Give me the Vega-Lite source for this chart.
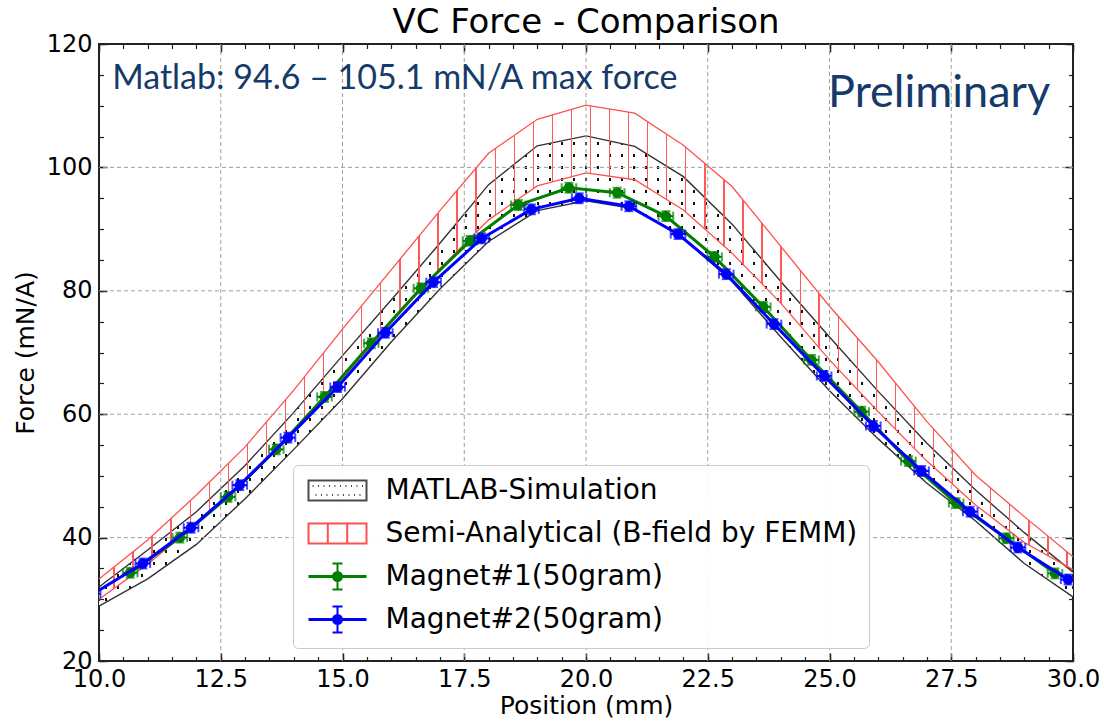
{
  "$schema": "https://vega.github.io/schema/vega-lite/v6.json",
  "autosize": {"type": "none"},
  "padding": {"left": 99, "top": 44, "right": 31, "bottom": 62},
  "width": 974,
  "height": 617,
  "background": "white",
  "title": {"text": "VC Force - Comparison", "fontSize": 34, "font": "DejaVu Sans", "fontWeight": "normal", "anchor": "middle", "offset": -8, "color": "#000"},
  "config": {"view": {"stroke": "#222", "strokeWidth": 2}},
  "resolve": {"axis": {"x": "independent", "y": "independent"}},
  "datasets": {
    "bands": [
      {"x": 10, "gl": 28.9, "gu": 32.0, "rl": 30.0, "ru": 33.3},
      {"x": 11, "gl": 33.3, "gu": 38.0, "rl": 35.7, "ru": 39.6},
      {"x": 12, "gl": 38.9, "gu": 44.2, "rl": 42.2, "ru": 46.9},
      {"x": 13, "gl": 46.3, "gu": 51.7, "rl": 49.1, "ru": 54.7},
      {"x": 14, "gl": 54.3, "gu": 60.3, "rl": 57.3, "ru": 63.9},
      {"x": 15, "gl": 62.5, "gu": 69.5, "rl": 65.8, "ru": 73.8},
      {"x": 16, "gl": 71.7, "gu": 78.5, "rl": 74.8, "ru": 83.4},
      {"x": 17, "gl": 80.3, "gu": 87.7, "rl": 83.6, "ru": 93.0},
      {"x": 18, "gl": 88.0, "gu": 97.2, "rl": 91.5, "ru": 102.3},
      {"x": 19, "gl": 93.0, "gu": 103.5, "rl": 97.0, "ru": 107.8},
      {"x": 20, "gl": 94.6, "gu": 105.1, "rl": 99.1, "ru": 110.1},
      {"x": 21, "gl": 93.3, "gu": 103.4, "rl": 98.0, "ru": 108.8},
      {"x": 22, "gl": 88.5, "gu": 98.5, "rl": 93.1, "ru": 103.6},
      {"x": 23, "gl": 81.5, "gu": 90.8, "rl": 86.1, "ru": 96.9},
      {"x": 24, "gl": 72.5, "gu": 81.5, "rl": 78.0, "ru": 87.2},
      {"x": 25, "gl": 63.8, "gu": 72.5, "rl": 68.8, "ru": 77.5},
      {"x": 26, "gl": 56.0, "gu": 63.7, "rl": 60.4, "ru": 68.5},
      {"x": 27, "gl": 48.8, "gu": 55.3, "rl": 52.4, "ru": 58.8},
      {"x": 28, "gl": 42.7, "gu": 47.7, "rl": 45.3, "ru": 50.1},
      {"x": 29, "gl": 35.8, "gu": 40.8, "rl": 39.2, "ru": 43.4},
      {"x": 30, "gl": 30.4, "gu": 34.4, "rl": 34.8, "ru": 36.9}
    ],
    "mag": [
      {"s": "Magnet#1(50gram)", "x": 10.64, "y": 34.3, "ex": 0.15, "ey": 0.8},
      {"s": "Magnet#1(50gram)", "x": 11.66, "y": 40.0, "ex": 0.15, "ey": 0.8},
      {"s": "Magnet#1(50gram)", "x": 12.65, "y": 46.6, "ex": 0.15, "ey": 0.8},
      {"s": "Magnet#1(50gram)", "x": 13.64, "y": 54.3, "ex": 0.15, "ey": 0.8},
      {"s": "Magnet#1(50gram)", "x": 14.63, "y": 62.8, "ex": 0.15, "ey": 0.8},
      {"s": "Magnet#1(50gram)", "x": 15.59, "y": 71.5, "ex": 0.15, "ey": 0.8},
      {"s": "Magnet#1(50gram)", "x": 16.61, "y": 80.4, "ex": 0.15, "ey": 0.8},
      {"s": "Magnet#1(50gram)", "x": 17.62, "y": 88.1, "ex": 0.15, "ey": 0.8},
      {"s": "Magnet#1(50gram)", "x": 18.61, "y": 93.9, "ex": 0.15, "ey": 0.8},
      {"s": "Magnet#1(50gram)", "x": 19.65, "y": 96.7, "ex": 0.15, "ey": 0.8},
      {"s": "Magnet#1(50gram)", "x": 20.64, "y": 95.9, "ex": 0.15, "ey": 0.8},
      {"s": "Magnet#1(50gram)", "x": 21.64, "y": 92.1, "ex": 0.15, "ey": 0.8},
      {"s": "Magnet#1(50gram)", "x": 22.64, "y": 85.5, "ex": 0.15, "ey": 0.8},
      {"s": "Magnet#1(50gram)", "x": 23.64, "y": 77.4, "ex": 0.15, "ey": 0.8},
      {"s": "Magnet#1(50gram)", "x": 24.63, "y": 68.8, "ex": 0.15, "ey": 0.8},
      {"s": "Magnet#1(50gram)", "x": 25.66, "y": 60.4, "ex": 0.15, "ey": 0.8},
      {"s": "Magnet#1(50gram)", "x": 26.62, "y": 52.4, "ex": 0.15, "ey": 0.8},
      {"s": "Magnet#1(50gram)", "x": 27.6, "y": 45.6, "ex": 0.15, "ey": 0.8},
      {"s": "Magnet#1(50gram)", "x": 28.63, "y": 39.9, "ex": 0.15, "ey": 0.8},
      {"s": "Magnet#1(50gram)", "x": 29.63, "y": 34.2, "ex": 0.15, "ey": 0.8},
      {"s": "Magnet#2(50gram)", "x": 9.88, "y": 30.9, "ex": 0.15, "ey": 0.8},
      {"s": "Magnet#2(50gram)", "x": 10.9, "y": 35.8, "ex": 0.15, "ey": 0.8},
      {"s": "Magnet#2(50gram)", "x": 11.89, "y": 41.6, "ex": 0.15, "ey": 0.8},
      {"s": "Magnet#2(50gram)", "x": 12.89, "y": 48.5, "ex": 0.15, "ey": 0.8},
      {"s": "Magnet#2(50gram)", "x": 13.88, "y": 56.2, "ex": 0.15, "ey": 0.8},
      {"s": "Magnet#2(50gram)", "x": 14.9, "y": 64.4, "ex": 0.15, "ey": 0.8},
      {"s": "Magnet#2(50gram)", "x": 15.88, "y": 73.2, "ex": 0.15, "ey": 0.8},
      {"s": "Magnet#2(50gram)", "x": 16.87, "y": 81.4, "ex": 0.15, "ey": 0.8},
      {"s": "Magnet#2(50gram)", "x": 17.86, "y": 88.5, "ex": 0.15, "ey": 0.8},
      {"s": "Magnet#2(50gram)", "x": 18.88, "y": 93.2, "ex": 0.15, "ey": 0.8},
      {"s": "Magnet#2(50gram)", "x": 19.86, "y": 95.0, "ex": 0.15, "ey": 0.8},
      {"s": "Magnet#2(50gram)", "x": 20.88, "y": 93.7, "ex": 0.15, "ey": 0.8},
      {"s": "Magnet#2(50gram)", "x": 21.89, "y": 89.2, "ex": 0.15, "ey": 0.8},
      {"s": "Magnet#2(50gram)", "x": 22.88, "y": 82.7, "ex": 0.15, "ey": 0.8},
      {"s": "Magnet#2(50gram)", "x": 23.86, "y": 74.6, "ex": 0.15, "ey": 0.8},
      {"s": "Magnet#2(50gram)", "x": 24.89, "y": 66.2, "ex": 0.15, "ey": 0.8},
      {"s": "Magnet#2(50gram)", "x": 25.9, "y": 58.1, "ex": 0.15, "ey": 0.8},
      {"s": "Magnet#2(50gram)", "x": 26.89, "y": 50.8, "ex": 0.15, "ey": 0.8},
      {"s": "Magnet#2(50gram)", "x": 27.89, "y": 44.2, "ex": 0.15, "ey": 0.8},
      {"s": "Magnet#2(50gram)", "x": 28.87, "y": 38.4, "ex": 0.15, "ey": 0.8},
      {"s": "Magnet#2(50gram)", "x": 29.9, "y": 33.2, "ex": 0.15, "ey": 0.8}
    ],
    "series": [
      {"series": "MATLAB-Simulation"},
      {"series": "Semi-Analytical (B-field by FEMM)"},
      {"series": "Magnet#1(50gram)"},
      {"series": "Magnet#2(50gram)"}
    ],
    "gridx": [{"g": 12.5}, {"g": 15}, {"g": 17.5}, {"g": 20}, {"g": 22.5}, {"g": 25}, {"g": 27.5}],
    "gridy": [{"g": 40}, {"g": 60}, {"g": 80}, {"g": 100}]
  },
  "layer": [
    {
      "data": {"name": "bands"},
      "mark": {"type": "area", "strokeWidth": 0, "fill": {"gradient": "linear", "x1": 0, "y1": 0, "x2": 1, "y2": 0, "stops": [
        {"offset":0,"color":"transparent"},
        {"offset":0.0062,"color":"transparent"},{"offset":0.0062,"color":"#111"},{"offset":0.0082,"color":"#111"},{"offset":0.0082,"color":"transparent"},
        {"offset":0.0185,"color":"transparent"},{"offset":0.0185,"color":"#111"},{"offset":0.0205,"color":"#111"},{"offset":0.0205,"color":"transparent"},
        {"offset":0.0308,"color":"transparent"},{"offset":0.0308,"color":"#111"},{"offset":0.0329,"color":"#111"},{"offset":0.0329,"color":"transparent"},
        {"offset":0.0431,"color":"transparent"},{"offset":0.0431,"color":"#111"},{"offset":0.0452,"color":"#111"},{"offset":0.0452,"color":"transparent"},
        {"offset":0.0554,"color":"transparent"},{"offset":0.0554,"color":"#111"},{"offset":0.0575,"color":"#111"},{"offset":0.0575,"color":"transparent"},
        {"offset":0.0678,"color":"transparent"},{"offset":0.0678,"color":"#111"},{"offset":0.0698,"color":"#111"},{"offset":0.0698,"color":"transparent"},
        {"offset":0.0801,"color":"transparent"},{"offset":0.0801,"color":"#111"},{"offset":0.0821,"color":"#111"},{"offset":0.0821,"color":"transparent"},
        {"offset":0.0924,"color":"transparent"},{"offset":0.0924,"color":"#111"},{"offset":0.0945,"color":"#111"},{"offset":0.0945,"color":"transparent"},
        {"offset":0.1047,"color":"transparent"},{"offset":0.1047,"color":"#111"},{"offset":0.1068,"color":"#111"},{"offset":0.1068,"color":"transparent"},
        {"offset":0.1170,"color":"transparent"},{"offset":0.1170,"color":"#111"},{"offset":0.1191,"color":"#111"},{"offset":0.1191,"color":"transparent"},
        {"offset":0.1294,"color":"transparent"},{"offset":0.1294,"color":"#111"},{"offset":0.1314,"color":"#111"},{"offset":0.1314,"color":"transparent"},
        {"offset":0.1417,"color":"transparent"},{"offset":0.1417,"color":"#111"},{"offset":0.1437,"color":"#111"},{"offset":0.1437,"color":"transparent"},
        {"offset":0.1540,"color":"transparent"},{"offset":0.1540,"color":"#111"},{"offset":0.1561,"color":"#111"},{"offset":0.1561,"color":"transparent"},
        {"offset":0.1663,"color":"transparent"},{"offset":0.1663,"color":"#111"},{"offset":0.1684,"color":"#111"},{"offset":0.1684,"color":"transparent"},
        {"offset":0.1786,"color":"transparent"},{"offset":0.1786,"color":"#111"},{"offset":0.1807,"color":"#111"},{"offset":0.1807,"color":"transparent"},
        {"offset":0.1910,"color":"transparent"},{"offset":0.1910,"color":"#111"},{"offset":0.1930,"color":"#111"},{"offset":0.1930,"color":"transparent"},
        {"offset":0.2033,"color":"transparent"},{"offset":0.2033,"color":"#111"},{"offset":0.2053,"color":"#111"},{"offset":0.2053,"color":"transparent"},
        {"offset":0.2156,"color":"transparent"},{"offset":0.2156,"color":"#111"},{"offset":0.2177,"color":"#111"},{"offset":0.2177,"color":"transparent"},
        {"offset":0.2279,"color":"transparent"},{"offset":0.2279,"color":"#111"},{"offset":0.2300,"color":"#111"},{"offset":0.2300,"color":"transparent"},
        {"offset":0.2402,"color":"transparent"},{"offset":0.2402,"color":"#111"},{"offset":0.2423,"color":"#111"},{"offset":0.2423,"color":"transparent"},
        {"offset":0.2526,"color":"transparent"},{"offset":0.2526,"color":"#111"},{"offset":0.2546,"color":"#111"},{"offset":0.2546,"color":"transparent"},
        {"offset":0.2649,"color":"transparent"},{"offset":0.2649,"color":"#111"},{"offset":0.2669,"color":"#111"},{"offset":0.2669,"color":"transparent"},
        {"offset":0.2772,"color":"transparent"},{"offset":0.2772,"color":"#111"},{"offset":0.2793,"color":"#111"},{"offset":0.2793,"color":"transparent"},
        {"offset":0.2895,"color":"transparent"},{"offset":0.2895,"color":"#111"},{"offset":0.2916,"color":"#111"},{"offset":0.2916,"color":"transparent"},
        {"offset":0.3018,"color":"transparent"},{"offset":0.3018,"color":"#111"},{"offset":0.3039,"color":"#111"},{"offset":0.3039,"color":"transparent"},
        {"offset":0.3142,"color":"transparent"},{"offset":0.3142,"color":"#111"},{"offset":0.3162,"color":"#111"},{"offset":0.3162,"color":"transparent"},
        {"offset":0.3265,"color":"transparent"},{"offset":0.3265,"color":"#111"},{"offset":0.3285,"color":"#111"},{"offset":0.3285,"color":"transparent"},
        {"offset":0.3388,"color":"transparent"},{"offset":0.3388,"color":"#111"},{"offset":0.3409,"color":"#111"},{"offset":0.3409,"color":"transparent"},
        {"offset":0.3511,"color":"transparent"},{"offset":0.3511,"color":"#111"},{"offset":0.3532,"color":"#111"},{"offset":0.3532,"color":"transparent"},
        {"offset":0.3634,"color":"transparent"},{"offset":0.3634,"color":"#111"},{"offset":0.3655,"color":"#111"},{"offset":0.3655,"color":"transparent"},
        {"offset":0.3758,"color":"transparent"},{"offset":0.3758,"color":"#111"},{"offset":0.3778,"color":"#111"},{"offset":0.3778,"color":"transparent"},
        {"offset":0.3881,"color":"transparent"},{"offset":0.3881,"color":"#111"},{"offset":0.3901,"color":"#111"},{"offset":0.3901,"color":"transparent"},
        {"offset":0.4004,"color":"transparent"},{"offset":0.4004,"color":"#111"},{"offset":0.4025,"color":"#111"},{"offset":0.4025,"color":"transparent"},
        {"offset":0.4127,"color":"transparent"},{"offset":0.4127,"color":"#111"},{"offset":0.4148,"color":"#111"},{"offset":0.4148,"color":"transparent"},
        {"offset":0.4250,"color":"transparent"},{"offset":0.4250,"color":"#111"},{"offset":0.4271,"color":"#111"},{"offset":0.4271,"color":"transparent"},
        {"offset":0.4374,"color":"transparent"},{"offset":0.4374,"color":"#111"},{"offset":0.4394,"color":"#111"},{"offset":0.4394,"color":"transparent"},
        {"offset":0.4497,"color":"transparent"},{"offset":0.4497,"color":"#111"},{"offset":0.4517,"color":"#111"},{"offset":0.4517,"color":"transparent"},
        {"offset":0.4620,"color":"transparent"},{"offset":0.4620,"color":"#111"},{"offset":0.4641,"color":"#111"},{"offset":0.4641,"color":"transparent"},
        {"offset":0.4743,"color":"transparent"},{"offset":0.4743,"color":"#111"},{"offset":0.4764,"color":"#111"},{"offset":0.4764,"color":"transparent"},
        {"offset":0.4866,"color":"transparent"},{"offset":0.4866,"color":"#111"},{"offset":0.4887,"color":"#111"},{"offset":0.4887,"color":"transparent"},
        {"offset":0.4990,"color":"transparent"},{"offset":0.4990,"color":"#111"},{"offset":0.5010,"color":"#111"},{"offset":0.5010,"color":"transparent"},
        {"offset":0.5113,"color":"transparent"},{"offset":0.5113,"color":"#111"},{"offset":0.5133,"color":"#111"},{"offset":0.5133,"color":"transparent"},
        {"offset":0.5236,"color":"transparent"},{"offset":0.5236,"color":"#111"},{"offset":0.5257,"color":"#111"},{"offset":0.5257,"color":"transparent"},
        {"offset":0.5359,"color":"transparent"},{"offset":0.5359,"color":"#111"},{"offset":0.5380,"color":"#111"},{"offset":0.5380,"color":"transparent"},
        {"offset":0.5482,"color":"transparent"},{"offset":0.5482,"color":"#111"},{"offset":0.5503,"color":"#111"},{"offset":0.5503,"color":"transparent"},
        {"offset":0.5606,"color":"transparent"},{"offset":0.5606,"color":"#111"},{"offset":0.5626,"color":"#111"},{"offset":0.5626,"color":"transparent"},
        {"offset":0.5729,"color":"transparent"},{"offset":0.5729,"color":"#111"},{"offset":0.5749,"color":"#111"},{"offset":0.5749,"color":"transparent"},
        {"offset":0.5852,"color":"transparent"},{"offset":0.5852,"color":"#111"},{"offset":0.5873,"color":"#111"},{"offset":0.5873,"color":"transparent"},
        {"offset":0.5975,"color":"transparent"},{"offset":0.5975,"color":"#111"},{"offset":0.5996,"color":"#111"},{"offset":0.5996,"color":"transparent"},
        {"offset":0.6098,"color":"transparent"},{"offset":0.6098,"color":"#111"},{"offset":0.6119,"color":"#111"},{"offset":0.6119,"color":"transparent"},
        {"offset":0.6222,"color":"transparent"},{"offset":0.6222,"color":"#111"},{"offset":0.6242,"color":"#111"},{"offset":0.6242,"color":"transparent"},
        {"offset":0.6345,"color":"transparent"},{"offset":0.6345,"color":"#111"},{"offset":0.6365,"color":"#111"},{"offset":0.6365,"color":"transparent"},
        {"offset":0.6468,"color":"transparent"},{"offset":0.6468,"color":"#111"},{"offset":0.6489,"color":"#111"},{"offset":0.6489,"color":"transparent"},
        {"offset":0.6591,"color":"transparent"},{"offset":0.6591,"color":"#111"},{"offset":0.6612,"color":"#111"},{"offset":0.6612,"color":"transparent"},
        {"offset":0.6714,"color":"transparent"},{"offset":0.6714,"color":"#111"},{"offset":0.6735,"color":"#111"},{"offset":0.6735,"color":"transparent"},
        {"offset":0.6838,"color":"transparent"},{"offset":0.6838,"color":"#111"},{"offset":0.6858,"color":"#111"},{"offset":0.6858,"color":"transparent"},
        {"offset":0.6961,"color":"transparent"},{"offset":0.6961,"color":"#111"},{"offset":0.6981,"color":"#111"},{"offset":0.6981,"color":"transparent"},
        {"offset":0.7084,"color":"transparent"},{"offset":0.7084,"color":"#111"},{"offset":0.7105,"color":"#111"},{"offset":0.7105,"color":"transparent"},
        {"offset":0.7207,"color":"transparent"},{"offset":0.7207,"color":"#111"},{"offset":0.7228,"color":"#111"},{"offset":0.7228,"color":"transparent"},
        {"offset":0.7330,"color":"transparent"},{"offset":0.7330,"color":"#111"},{"offset":0.7351,"color":"#111"},{"offset":0.7351,"color":"transparent"},
        {"offset":0.7454,"color":"transparent"},{"offset":0.7454,"color":"#111"},{"offset":0.7474,"color":"#111"},{"offset":0.7474,"color":"transparent"},
        {"offset":0.7577,"color":"transparent"},{"offset":0.7577,"color":"#111"},{"offset":0.7597,"color":"#111"},{"offset":0.7597,"color":"transparent"},
        {"offset":0.7700,"color":"transparent"},{"offset":0.7700,"color":"#111"},{"offset":0.7721,"color":"#111"},{"offset":0.7721,"color":"transparent"},
        {"offset":0.7823,"color":"transparent"},{"offset":0.7823,"color":"#111"},{"offset":0.7844,"color":"#111"},{"offset":0.7844,"color":"transparent"},
        {"offset":0.7946,"color":"transparent"},{"offset":0.7946,"color":"#111"},{"offset":0.7967,"color":"#111"},{"offset":0.7967,"color":"transparent"},
        {"offset":0.8070,"color":"transparent"},{"offset":0.8070,"color":"#111"},{"offset":0.8090,"color":"#111"},{"offset":0.8090,"color":"transparent"},
        {"offset":0.8193,"color":"transparent"},{"offset":0.8193,"color":"#111"},{"offset":0.8213,"color":"#111"},{"offset":0.8213,"color":"transparent"},
        {"offset":0.8316,"color":"transparent"},{"offset":0.8316,"color":"#111"},{"offset":0.8337,"color":"#111"},{"offset":0.8337,"color":"transparent"},
        {"offset":0.8439,"color":"transparent"},{"offset":0.8439,"color":"#111"},{"offset":0.8460,"color":"#111"},{"offset":0.8460,"color":"transparent"},
        {"offset":0.8562,"color":"transparent"},{"offset":0.8562,"color":"#111"},{"offset":0.8583,"color":"#111"},{"offset":0.8583,"color":"transparent"},
        {"offset":0.8686,"color":"transparent"},{"offset":0.8686,"color":"#111"},{"offset":0.8706,"color":"#111"},{"offset":0.8706,"color":"transparent"},
        {"offset":0.8809,"color":"transparent"},{"offset":0.8809,"color":"#111"},{"offset":0.8829,"color":"#111"},{"offset":0.8829,"color":"transparent"},
        {"offset":0.8932,"color":"transparent"},{"offset":0.8932,"color":"#111"},{"offset":0.8953,"color":"#111"},{"offset":0.8953,"color":"transparent"},
        {"offset":0.9055,"color":"transparent"},{"offset":0.9055,"color":"#111"},{"offset":0.9076,"color":"#111"},{"offset":0.9076,"color":"transparent"},
        {"offset":0.9178,"color":"transparent"},{"offset":0.9178,"color":"#111"},{"offset":0.9199,"color":"#111"},{"offset":0.9199,"color":"transparent"},
        {"offset":0.9302,"color":"transparent"},{"offset":0.9302,"color":"#111"},{"offset":0.9322,"color":"#111"},{"offset":0.9322,"color":"transparent"},
        {"offset":0.9425,"color":"transparent"},{"offset":0.9425,"color":"#111"},{"offset":0.9445,"color":"#111"},{"offset":0.9445,"color":"transparent"},
        {"offset":0.9548,"color":"transparent"},{"offset":0.9548,"color":"#111"},{"offset":0.9569,"color":"#111"},{"offset":0.9569,"color":"transparent"},
        {"offset":0.9671,"color":"transparent"},{"offset":0.9671,"color":"#111"},{"offset":0.9692,"color":"#111"},{"offset":0.9692,"color":"transparent"},
        {"offset":0.9794,"color":"transparent"},{"offset":0.9794,"color":"#111"},{"offset":0.9815,"color":"#111"},{"offset":0.9815,"color":"transparent"},
        {"offset":0.9918,"color":"transparent"},{"offset":0.9918,"color":"#111"},{"offset":0.9938,"color":"#111"},{"offset":0.9938,"color":"transparent"},
        {"offset":1,"color":"transparent"}
      ]}},
      "encoding": {
        "x": {"field": "x", "type": "quantitative", "scale": {"domain": [10, 30], "nice": false, "zero": false},
          "axis": {"orient": "bottom", "values": [10, 12.5, 15, 17.5, 20, 22.5, 25, 27.5, 30], "format": ".1f", "tickSize": -8, "tickWidth": 1.5, "tickColor": "#222", "labelPadding": 14, "labelFontSize": 24, "labelFont": "DejaVu Sans", "labelColor": "#000", "labelFlush": false, "labelOverlap": false, "labelBound": false, "domain": false, "grid": false, "title": "Position (mm)", "titleFontSize": 25, "titleFontWeight": "normal", "titleFont": "DejaVu Sans", "titleColor": "#000", "titlePadding": 2}},
        "y": {"field": "gl", "type": "quantitative", "scale": {"domain": [20, 120], "nice": false, "zero": false},
          "axis": {"orient": "left", "values": [20, 40, 60, 80, 100, 120], "tickSize": -8, "tickWidth": 1.5, "tickColor": "#222", "labelPadding": 15, "labelFontSize": 24, "labelFont": "DejaVu Sans", "labelColor": "#000", "labelFlush": false, "labelOverlap": false, "labelBound": false, "domain": false, "grid": false, "title": "Force (mN/A)", "titleFontSize": 25, "titleFontWeight": "normal", "titleFont": "DejaVu Sans", "titleColor": "#000", "titlePadding": 8}},
        "y2": {"field": "gu"}
      }
    },
    {
      "data": {"name": "bands"},
      "mark": {"type": "area", "strokeWidth": 0, "fill": {"gradient": "linear", "x1": 0, "y1": 0, "x2": 0, "y2": 1, "stops": [
        {"offset":0,"color":"#ffffff"},
        {"offset":0.0128,"color":"#ffffff"},{"offset":0.0128,"color":"transparent"},{"offset":0.0192,"color":"transparent"},{"offset":0.0192,"color":"#ffffff"},
        {"offset":0.0383,"color":"#ffffff"},{"offset":0.0383,"color":"transparent"},{"offset":0.0447,"color":"transparent"},{"offset":0.0447,"color":"#ffffff"},
        {"offset":0.0638,"color":"#ffffff"},{"offset":0.0638,"color":"transparent"},{"offset":0.0702,"color":"transparent"},{"offset":0.0702,"color":"#ffffff"},
        {"offset":0.0893,"color":"#ffffff"},{"offset":0.0893,"color":"transparent"},{"offset":0.0957,"color":"transparent"},{"offset":0.0957,"color":"#ffffff"},
        {"offset":0.1148,"color":"#ffffff"},{"offset":0.1148,"color":"transparent"},{"offset":0.1212,"color":"transparent"},{"offset":0.1212,"color":"#ffffff"},
        {"offset":0.1404,"color":"#ffffff"},{"offset":0.1404,"color":"transparent"},{"offset":0.1468,"color":"transparent"},{"offset":0.1468,"color":"#ffffff"},
        {"offset":0.1659,"color":"#ffffff"},{"offset":0.1659,"color":"transparent"},{"offset":0.1723,"color":"transparent"},{"offset":0.1723,"color":"#ffffff"},
        {"offset":0.1914,"color":"#ffffff"},{"offset":0.1914,"color":"transparent"},{"offset":0.1978,"color":"transparent"},{"offset":0.1978,"color":"#ffffff"},
        {"offset":0.2169,"color":"#ffffff"},{"offset":0.2169,"color":"transparent"},{"offset":0.2233,"color":"transparent"},{"offset":0.2233,"color":"#ffffff"},
        {"offset":0.2424,"color":"#ffffff"},{"offset":0.2424,"color":"transparent"},{"offset":0.2488,"color":"transparent"},{"offset":0.2488,"color":"#ffffff"},
        {"offset":0.2680,"color":"#ffffff"},{"offset":0.2680,"color":"transparent"},{"offset":0.2744,"color":"transparent"},{"offset":0.2744,"color":"#ffffff"},
        {"offset":0.2935,"color":"#ffffff"},{"offset":0.2935,"color":"transparent"},{"offset":0.2999,"color":"transparent"},{"offset":0.2999,"color":"#ffffff"},
        {"offset":0.3190,"color":"#ffffff"},{"offset":0.3190,"color":"transparent"},{"offset":0.3254,"color":"transparent"},{"offset":0.3254,"color":"#ffffff"},
        {"offset":0.3445,"color":"#ffffff"},{"offset":0.3445,"color":"transparent"},{"offset":0.3509,"color":"transparent"},{"offset":0.3509,"color":"#ffffff"},
        {"offset":0.3701,"color":"#ffffff"},{"offset":0.3701,"color":"transparent"},{"offset":0.3765,"color":"transparent"},{"offset":0.3765,"color":"#ffffff"},
        {"offset":0.3956,"color":"#ffffff"},{"offset":0.3956,"color":"transparent"},{"offset":0.4020,"color":"transparent"},{"offset":0.4020,"color":"#ffffff"},
        {"offset":0.4211,"color":"#ffffff"},{"offset":0.4211,"color":"transparent"},{"offset":0.4275,"color":"transparent"},{"offset":0.4275,"color":"#ffffff"},
        {"offset":0.4466,"color":"#ffffff"},{"offset":0.4466,"color":"transparent"},{"offset":0.4530,"color":"transparent"},{"offset":0.4530,"color":"#ffffff"},
        {"offset":0.4721,"color":"#ffffff"},{"offset":0.4721,"color":"transparent"},{"offset":0.4785,"color":"transparent"},{"offset":0.4785,"color":"#ffffff"},
        {"offset":0.4977,"color":"#ffffff"},{"offset":0.4977,"color":"transparent"},{"offset":0.5041,"color":"transparent"},{"offset":0.5041,"color":"#ffffff"},
        {"offset":0.5232,"color":"#ffffff"},{"offset":0.5232,"color":"transparent"},{"offset":0.5296,"color":"transparent"},{"offset":0.5296,"color":"#ffffff"},
        {"offset":0.5487,"color":"#ffffff"},{"offset":0.5487,"color":"transparent"},{"offset":0.5551,"color":"transparent"},{"offset":0.5551,"color":"#ffffff"},
        {"offset":0.5742,"color":"#ffffff"},{"offset":0.5742,"color":"transparent"},{"offset":0.5806,"color":"transparent"},{"offset":0.5806,"color":"#ffffff"},
        {"offset":0.5997,"color":"#ffffff"},{"offset":0.5997,"color":"transparent"},{"offset":0.6061,"color":"transparent"},{"offset":0.6061,"color":"#ffffff"},
        {"offset":0.6253,"color":"#ffffff"},{"offset":0.6253,"color":"transparent"},{"offset":0.6317,"color":"transparent"},{"offset":0.6317,"color":"#ffffff"},
        {"offset":0.6508,"color":"#ffffff"},{"offset":0.6508,"color":"transparent"},{"offset":0.6572,"color":"transparent"},{"offset":0.6572,"color":"#ffffff"},
        {"offset":0.6763,"color":"#ffffff"},{"offset":0.6763,"color":"transparent"},{"offset":0.6827,"color":"transparent"},{"offset":0.6827,"color":"#ffffff"},
        {"offset":0.7018,"color":"#ffffff"},{"offset":0.7018,"color":"transparent"},{"offset":0.7082,"color":"transparent"},{"offset":0.7082,"color":"#ffffff"},
        {"offset":0.7274,"color":"#ffffff"},{"offset":0.7274,"color":"transparent"},{"offset":0.7338,"color":"transparent"},{"offset":0.7338,"color":"#ffffff"},
        {"offset":0.7529,"color":"#ffffff"},{"offset":0.7529,"color":"transparent"},{"offset":0.7593,"color":"transparent"},{"offset":0.7593,"color":"#ffffff"},
        {"offset":0.7784,"color":"#ffffff"},{"offset":0.7784,"color":"transparent"},{"offset":0.7848,"color":"transparent"},{"offset":0.7848,"color":"#ffffff"},
        {"offset":0.8039,"color":"#ffffff"},{"offset":0.8039,"color":"transparent"},{"offset":0.8103,"color":"transparent"},{"offset":0.8103,"color":"#ffffff"},
        {"offset":0.8294,"color":"#ffffff"},{"offset":0.8294,"color":"transparent"},{"offset":0.8358,"color":"transparent"},{"offset":0.8358,"color":"#ffffff"},
        {"offset":0.8550,"color":"#ffffff"},{"offset":0.8550,"color":"transparent"},{"offset":0.8614,"color":"transparent"},{"offset":0.8614,"color":"#ffffff"},
        {"offset":0.8805,"color":"#ffffff"},{"offset":0.8805,"color":"transparent"},{"offset":0.8869,"color":"transparent"},{"offset":0.8869,"color":"#ffffff"},
        {"offset":0.9060,"color":"#ffffff"},{"offset":0.9060,"color":"transparent"},{"offset":0.9124,"color":"transparent"},{"offset":0.9124,"color":"#ffffff"},
        {"offset":0.9315,"color":"#ffffff"},{"offset":0.9315,"color":"transparent"},{"offset":0.9379,"color":"transparent"},{"offset":0.9379,"color":"#ffffff"},
        {"offset":0.9570,"color":"#ffffff"},{"offset":0.9570,"color":"transparent"},{"offset":0.9634,"color":"transparent"},{"offset":0.9634,"color":"#ffffff"},
        {"offset":0.9826,"color":"#ffffff"},{"offset":0.9826,"color":"transparent"},{"offset":0.9890,"color":"transparent"},{"offset":0.9890,"color":"#ffffff"},
        {"offset":1,"color":"#ffffff"}
      ]}},
      "encoding": {
        "x": {"field": "x", "type": "quantitative",
          "axis": {"orient": "bottom", "values": [10, 10.5, 11, 11.5, 12, 12.5, 13, 13.5, 14, 14.5, 15, 15.5, 16, 16.5, 17, 17.5, 18, 18.5, 19, 19.5, 20, 20.5, 21, 21.5, 22, 22.5, 23, 23.5, 24, 24.5, 25, 25.5, 26, 26.5, 27, 27.5, 28, 28.5, 29, 29.5, 30], "tickSize": -4.5, "tickWidth": 1.2, "tickColor": "#222", "labels": false, "domain": false, "grid": false, "title": null}},
        "y": {"field": "gl", "type": "quantitative",
          "axis": {"orient": "left", "values": [20, 25, 30, 35, 40, 45, 50, 55, 60, 65, 70, 75, 80, 85, 90, 95, 100, 105, 110, 115, 120], "tickSize": -4.5, "tickWidth": 1.2, "tickColor": "#222", "labels": false, "domain": false, "grid": false, "title": null}},
        "y2": {"field": "gu"}
      }
    },
    {
      "data": {"name": "bands"},
      "mark": {"type": "line", "color": "#333333", "strokeWidth": 1.4},
      "encoding": {
        "x": {"field": "x", "type": "quantitative",
          "axis": {"orient": "top", "values": [10, 12.5, 15, 17.5, 20, 22.5, 25, 27.5, 30], "tickSize": -8, "tickWidth": 1.5, "tickColor": "#222", "labels": false, "domain": false, "grid": false, "title": null}},
        "y": {"field": "gu", "type": "quantitative",
          "axis": {"orient": "right", "values": [20, 40, 60, 80, 100, 120], "tickSize": -8, "tickWidth": 1.5, "tickColor": "#222", "labels": false, "domain": false, "grid": false, "title": null}}
      }
    },
    {
      "data": {"name": "bands"},
      "mark": {"type": "line", "color": "#333333", "strokeWidth": 1.4},
      "encoding": {
        "x": {"field": "x", "type": "quantitative",
          "axis": {"orient": "top", "values": [10, 10.5, 11, 11.5, 12, 12.5, 13, 13.5, 14, 14.5, 15, 15.5, 16, 16.5, 17, 17.5, 18, 18.5, 19, 19.5, 20, 20.5, 21, 21.5, 22, 22.5, 23, 23.5, 24, 24.5, 25, 25.5, 26, 26.5, 27, 27.5, 28, 28.5, 29, 29.5, 30], "tickSize": -4.5, "tickWidth": 1.2, "tickColor": "#222", "labels": false, "domain": false, "grid": false, "title": null}},
        "y": {"field": "gl", "type": "quantitative",
          "axis": {"orient": "right", "values": [20, 25, 30, 35, 40, 45, 50, 55, 60, 65, 70, 75, 80, 85, 90, 95, 100, 105, 110, 115, 120], "tickSize": -4.5, "tickWidth": 1.2, "tickColor": "#222", "labels": false, "domain": false, "grid": false, "title": null}}
      }
    },
    {
      "data": {"name": "bands"},
      "mark": {"type": "area", "strokeWidth": 0, "fill": {"gradient": "linear", "x1": 0, "y1": 0, "x2": 1, "y2": 0, "stops": [
        {"offset": 0, "color": "transparent"},
        {"offset": 0.0147, "color": "transparent"}, {"offset": 0.0147, "color": "#ff5a5a"}, {"offset": 0.0161, "color": "#ff5a5a"}, {"offset": 0.0161, "color": "transparent"},
        {"offset": 0.0343, "color": "transparent"}, {"offset": 0.0343, "color": "#ff5a5a"}, {"offset": 0.0357, "color": "#ff5a5a"}, {"offset": 0.0357, "color": "transparent"},
        {"offset": 0.0538, "color": "transparent"}, {"offset": 0.0538, "color": "#ff5a5a"}, {"offset": 0.0552, "color": "#ff5a5a"}, {"offset": 0.0552, "color": "transparent"},
        {"offset": 0.0734, "color": "transparent"}, {"offset": 0.0734, "color": "#ff5a5a"}, {"offset": 0.0748, "color": "#ff5a5a"}, {"offset": 0.0748, "color": "transparent"},
        {"offset": 0.0930, "color": "transparent"}, {"offset": 0.0930, "color": "#ff5a5a"}, {"offset": 0.0944, "color": "#ff5a5a"}, {"offset": 0.0944, "color": "transparent"},
        {"offset": 0.1125, "color": "transparent"}, {"offset": 0.1125, "color": "#ff5a5a"}, {"offset": 0.1139, "color": "#ff5a5a"}, {"offset": 0.1139, "color": "transparent"},
        {"offset": 0.1321, "color": "transparent"}, {"offset": 0.1321, "color": "#ff5a5a"}, {"offset": 0.1335, "color": "#ff5a5a"}, {"offset": 0.1335, "color": "transparent"},
        {"offset": 0.1517, "color": "transparent"}, {"offset": 0.1517, "color": "#ff5a5a"}, {"offset": 0.1531, "color": "#ff5a5a"}, {"offset": 0.1531, "color": "transparent"},
        {"offset": 0.1712, "color": "transparent"}, {"offset": 0.1712, "color": "#ff5a5a"}, {"offset": 0.1726, "color": "#ff5a5a"}, {"offset": 0.1726, "color": "transparent"},
        {"offset": 0.1908, "color": "transparent"}, {"offset": 0.1908, "color": "#ff5a5a"}, {"offset": 0.1922, "color": "#ff5a5a"}, {"offset": 0.1922, "color": "transparent"},
        {"offset": 0.2104, "color": "transparent"}, {"offset": 0.2104, "color": "#ff5a5a"}, {"offset": 0.2118, "color": "#ff5a5a"}, {"offset": 0.2118, "color": "transparent"},
        {"offset": 0.2299, "color": "transparent"}, {"offset": 0.2299, "color": "#ff5a5a"}, {"offset": 0.2313, "color": "#ff5a5a"}, {"offset": 0.2313, "color": "transparent"},
        {"offset": 0.2495, "color": "transparent"}, {"offset": 0.2495, "color": "#ff5a5a"}, {"offset": 0.2509, "color": "#ff5a5a"}, {"offset": 0.2509, "color": "transparent"},
        {"offset": 0.2691, "color": "transparent"}, {"offset": 0.2691, "color": "#ff5a5a"}, {"offset": 0.2705, "color": "#ff5a5a"}, {"offset": 0.2705, "color": "transparent"},
        {"offset": 0.2886, "color": "transparent"}, {"offset": 0.2886, "color": "#ff5a5a"}, {"offset": 0.2900, "color": "#ff5a5a"}, {"offset": 0.2900, "color": "transparent"},
        {"offset": 0.3082, "color": "transparent"}, {"offset": 0.3082, "color": "#ff5a5a"}, {"offset": 0.3096, "color": "#ff5a5a"}, {"offset": 0.3096, "color": "transparent"},
        {"offset": 0.3278, "color": "transparent"}, {"offset": 0.3278, "color": "#ff5a5a"}, {"offset": 0.3292, "color": "#ff5a5a"}, {"offset": 0.3292, "color": "transparent"},
        {"offset": 0.3474, "color": "transparent"}, {"offset": 0.3474, "color": "#ff5a5a"}, {"offset": 0.3488, "color": "#ff5a5a"}, {"offset": 0.3488, "color": "transparent"},
        {"offset": 0.3669, "color": "transparent"}, {"offset": 0.3669, "color": "#ff5a5a"}, {"offset": 0.3683, "color": "#ff5a5a"}, {"offset": 0.3683, "color": "transparent"},
        {"offset": 0.3865, "color": "transparent"}, {"offset": 0.3865, "color": "#ff5a5a"}, {"offset": 0.3879, "color": "#ff5a5a"}, {"offset": 0.3879, "color": "transparent"},
        {"offset": 0.4061, "color": "transparent"}, {"offset": 0.4061, "color": "#ff5a5a"}, {"offset": 0.4075, "color": "#ff5a5a"}, {"offset": 0.4075, "color": "transparent"},
        {"offset": 0.4256, "color": "transparent"}, {"offset": 0.4256, "color": "#ff5a5a"}, {"offset": 0.4270, "color": "#ff5a5a"}, {"offset": 0.4270, "color": "transparent"},
        {"offset": 0.4452, "color": "transparent"}, {"offset": 0.4452, "color": "#ff5a5a"}, {"offset": 0.4466, "color": "#ff5a5a"}, {"offset": 0.4466, "color": "transparent"},
        {"offset": 0.4648, "color": "transparent"}, {"offset": 0.4648, "color": "#ff5a5a"}, {"offset": 0.4662, "color": "#ff5a5a"}, {"offset": 0.4662, "color": "transparent"},
        {"offset": 0.4843, "color": "transparent"}, {"offset": 0.4843, "color": "#ff5a5a"}, {"offset": 0.4857, "color": "#ff5a5a"}, {"offset": 0.4857, "color": "transparent"},
        {"offset": 0.5039, "color": "transparent"}, {"offset": 0.5039, "color": "#ff5a5a"}, {"offset": 0.5053, "color": "#ff5a5a"}, {"offset": 0.5053, "color": "transparent"},
        {"offset": 0.5235, "color": "transparent"}, {"offset": 0.5235, "color": "#ff5a5a"}, {"offset": 0.5249, "color": "#ff5a5a"}, {"offset": 0.5249, "color": "transparent"},
        {"offset": 0.5430, "color": "transparent"}, {"offset": 0.5430, "color": "#ff5a5a"}, {"offset": 0.5444, "color": "#ff5a5a"}, {"offset": 0.5444, "color": "transparent"},
        {"offset": 0.5626, "color": "transparent"}, {"offset": 0.5626, "color": "#ff5a5a"}, {"offset": 0.5640, "color": "#ff5a5a"}, {"offset": 0.5640, "color": "transparent"},
        {"offset": 0.5822, "color": "transparent"}, {"offset": 0.5822, "color": "#ff5a5a"}, {"offset": 0.5836, "color": "#ff5a5a"}, {"offset": 0.5836, "color": "transparent"},
        {"offset": 0.6017, "color": "transparent"}, {"offset": 0.6017, "color": "#ff5a5a"}, {"offset": 0.6031, "color": "#ff5a5a"}, {"offset": 0.6031, "color": "transparent"},
        {"offset": 0.6213, "color": "transparent"}, {"offset": 0.6213, "color": "#ff5a5a"}, {"offset": 0.6227, "color": "#ff5a5a"}, {"offset": 0.6227, "color": "transparent"},
        {"offset": 0.6409, "color": "transparent"}, {"offset": 0.6409, "color": "#ff5a5a"}, {"offset": 0.6423, "color": "#ff5a5a"}, {"offset": 0.6423, "color": "transparent"},
        {"offset": 0.6605, "color": "transparent"}, {"offset": 0.6605, "color": "#ff5a5a"}, {"offset": 0.6619, "color": "#ff5a5a"}, {"offset": 0.6619, "color": "transparent"},
        {"offset": 0.6800, "color": "transparent"}, {"offset": 0.6800, "color": "#ff5a5a"}, {"offset": 0.6814, "color": "#ff5a5a"}, {"offset": 0.6814, "color": "transparent"},
        {"offset": 0.6996, "color": "transparent"}, {"offset": 0.6996, "color": "#ff5a5a"}, {"offset": 0.7010, "color": "#ff5a5a"}, {"offset": 0.7010, "color": "transparent"},
        {"offset": 0.7192, "color": "transparent"}, {"offset": 0.7192, "color": "#ff5a5a"}, {"offset": 0.7206, "color": "#ff5a5a"}, {"offset": 0.7206, "color": "transparent"},
        {"offset": 0.7387, "color": "transparent"}, {"offset": 0.7387, "color": "#ff5a5a"}, {"offset": 0.7401, "color": "#ff5a5a"}, {"offset": 0.7401, "color": "transparent"},
        {"offset": 0.7583, "color": "transparent"}, {"offset": 0.7583, "color": "#ff5a5a"}, {"offset": 0.7597, "color": "#ff5a5a"}, {"offset": 0.7597, "color": "transparent"},
        {"offset": 0.7779, "color": "transparent"}, {"offset": 0.7779, "color": "#ff5a5a"}, {"offset": 0.7793, "color": "#ff5a5a"}, {"offset": 0.7793, "color": "transparent"},
        {"offset": 0.7974, "color": "transparent"}, {"offset": 0.7974, "color": "#ff5a5a"}, {"offset": 0.7988, "color": "#ff5a5a"}, {"offset": 0.7988, "color": "transparent"},
        {"offset": 0.8170, "color": "transparent"}, {"offset": 0.8170, "color": "#ff5a5a"}, {"offset": 0.8184, "color": "#ff5a5a"}, {"offset": 0.8184, "color": "transparent"},
        {"offset": 0.8366, "color": "transparent"}, {"offset": 0.8366, "color": "#ff5a5a"}, {"offset": 0.8380, "color": "#ff5a5a"}, {"offset": 0.8380, "color": "transparent"},
        {"offset": 0.8561, "color": "transparent"}, {"offset": 0.8561, "color": "#ff5a5a"}, {"offset": 0.8575, "color": "#ff5a5a"}, {"offset": 0.8575, "color": "transparent"},
        {"offset": 0.8757, "color": "transparent"}, {"offset": 0.8757, "color": "#ff5a5a"}, {"offset": 0.8771, "color": "#ff5a5a"}, {"offset": 0.8771, "color": "transparent"},
        {"offset": 0.8953, "color": "transparent"}, {"offset": 0.8953, "color": "#ff5a5a"}, {"offset": 0.8967, "color": "#ff5a5a"}, {"offset": 0.8967, "color": "transparent"},
        {"offset": 0.9148, "color": "transparent"}, {"offset": 0.9148, "color": "#ff5a5a"}, {"offset": 0.9162, "color": "#ff5a5a"}, {"offset": 0.9162, "color": "transparent"},
        {"offset": 0.9344, "color": "transparent"}, {"offset": 0.9344, "color": "#ff5a5a"}, {"offset": 0.9358, "color": "#ff5a5a"}, {"offset": 0.9358, "color": "transparent"},
        {"offset": 0.9540, "color": "transparent"}, {"offset": 0.9540, "color": "#ff5a5a"}, {"offset": 0.9554, "color": "#ff5a5a"}, {"offset": 0.9554, "color": "transparent"},
        {"offset": 0.9735, "color": "transparent"}, {"offset": 0.9735, "color": "#ff5a5a"}, {"offset": 0.9749, "color": "#ff5a5a"}, {"offset": 0.9749, "color": "transparent"},
        {"offset": 0.9931, "color": "transparent"}, {"offset": 0.9931, "color": "#ff5a5a"}, {"offset": 0.9945, "color": "#ff5a5a"}, {"offset": 0.9945, "color": "transparent"},
        {"offset": 1, "color": "transparent"}
      ]}},
      "encoding": {
        "x": {"field": "x", "type": "quantitative", "axis": null},
        "y": {"field": "rl", "type": "quantitative", "axis": null},
        "y2": {"field": "ru"}
      }
    },
    {
      "data": {"name": "bands"},
      "mark": {"type": "line", "color": "#ff5050", "strokeWidth": 1.3},
      "encoding": {
        "x": {"field": "x", "type": "quantitative", "axis": null},
        "y": {"field": "rl", "type": "quantitative", "axis": null}
      }
    },
    {
      "data": {"name": "bands"},
      "mark": {"type": "line", "color": "#ff5050", "strokeWidth": 1.3},
      "encoding": {
        "x": {"field": "x", "type": "quantitative", "axis": null},
        "y": {"field": "ru", "type": "quantitative", "axis": null}
      }
    },
    {
      "data": {"name": "gridx"},
      "mark": {"type": "rule", "color": "#a0a0a0", "strokeWidth": 1, "strokeDash": [4, 3]},
      "encoding": {
        "x": {"field": "g", "type": "quantitative", "axis": null}
      }
    },
    {
      "data": {"name": "gridy"},
      "mark": {"type": "rule", "color": "#a0a0a0", "strokeWidth": 1, "strokeDash": [4, 3]},
      "encoding": {
        "y": {"field": "g", "type": "quantitative", "axis": null}
      }
    },
    {
      "data": {"name": "mag"},
      "transform": [{"filter": "datum.s === 'Magnet#1(50gram)'"}],
      "mark": {"type": "errorbar", "ticks": {"size": 9}, "thickness": 2, "color": "#008000", "clip": true},
      "encoding": {
        "x": {"field": "x", "type": "quantitative", "axis": null},
        "y": {"field": "y", "type": "quantitative", "axis": null},
        "yError": {"field": "ey"}
      }
    },
    {
      "data": {"name": "mag"},
      "transform": [{"filter": "datum.s === 'Magnet#1(50gram)'"}],
      "mark": {"type": "errorbar", "ticks": {"size": 9}, "thickness": 2, "color": "#008000", "clip": true},
      "encoding": {
        "x": {"field": "x", "type": "quantitative", "axis": null},
        "y": {"field": "y", "type": "quantitative", "axis": null},
        "xError": {"field": "ex"}
      }
    },
    {
      "data": {"name": "mag"},
      "transform": [{"filter": "datum.s === 'Magnet#1(50gram)'"}],
      "mark": {"type": "line", "color": "#008000", "strokeWidth": 3, "clip": true, "point": {"filled": true, "size": 110, "color": "#008000"}},
      "encoding": {
        "x": {"field": "x", "type": "quantitative", "axis": null},
        "y": {"field": "y", "type": "quantitative", "axis": null}
      }
    },
    {
      "data": {"name": "mag"},
      "transform": [{"filter": "datum.s === 'Magnet#2(50gram)'"}],
      "mark": {"type": "errorbar", "ticks": {"size": 9}, "thickness": 2, "color": "#0000ff", "clip": true},
      "encoding": {
        "x": {"field": "x", "type": "quantitative", "axis": null},
        "y": {"field": "y", "type": "quantitative", "axis": null},
        "yError": {"field": "ey"}
      }
    },
    {
      "data": {"name": "mag"},
      "transform": [{"filter": "datum.s === 'Magnet#2(50gram)'"}],
      "mark": {"type": "errorbar", "ticks": {"size": 9}, "thickness": 2, "color": "#0000ff", "clip": true},
      "encoding": {
        "x": {"field": "x", "type": "quantitative", "axis": null},
        "y": {"field": "y", "type": "quantitative", "axis": null},
        "xError": {"field": "ex"}
      }
    },
    {
      "data": {"name": "mag"},
      "transform": [{"filter": "datum.s === 'Magnet#2(50gram)'"}],
      "mark": {"type": "line", "color": "#0000ff", "strokeWidth": 3, "clip": true, "point": {"filled": true, "size": 110, "color": "#0000ff"}},
      "encoding": {
        "x": {"field": "x", "type": "quantitative", "axis": null},
        "y": {"field": "y", "type": "quantitative", "axis": null}
      }
    },
    {
      "data": {"name": "series"},
      "mark": {"type": "point", "filled": false, "opacity": 0, "size": 400, "strokeWidth": 2},
      "encoding": {
        "color": {"field": "series", "type": "nominal",
          "scale": {"domain": ["MATLAB-Simulation", "Semi-Analytical (B-field by FEMM)", "Magnet#1(50gram)", "Magnet#2(50gram)"], "range": ["#4a4a4a", "#ff5050", "#008000", "#0000ff"]},
          "legend": {"title": null, "orient": "none", "legendX": 194, "legendY": 421, "padding": 11.5, "rowPadding": 9, "gridAlign": "all", "symbolSize": 400, "symbolStrokeWidth": 2, "symbolOpacity": 1, "symbolOffset": 19, "labelOffset": 34, "labelFontSize": 28, "labelFont": "DejaVu Sans", "labelColor": "#000", "labelLimit": 800, "fillColor": "rgba(255,255,255,0.92)", "strokeColor": "#cccccc", "cornerRadius": 5}},
        "shape": {"field": "series", "type": "nominal",
          "scale": {"domain": ["MATLAB-Simulation", "Semi-Analytical (B-field by FEMM)", "Magnet#1(50gram)", "Magnet#2(50gram)"],
            "range": [
              "M-2.9,-1H2.9V1H-2.9Z M-2.5,-0.45h0.1 M-1.95,-0.45h0.1 M-1.4,-0.45h0.1 M-0.85,-0.45h0.1 M-0.3,-0.45h0.1 M0.25,-0.45h0.1 M0.8,-0.45h0.1 M1.35,-0.45h0.1 M1.9,-0.45h0.1 M2.45,-0.45h0.1 M-2.2,0.45h0.1 M-1.65,0.45h0.1 M-1.1,0.45h0.1 M-0.55,0.45h0.1 M0,0.45h0.1 M0.55,0.45h0.1 M1.1,0.45h0.1 M1.65,0.45h0.1 M2.2,0.45h0.1",
              "M-2.9,-1H2.9V1H-2.9Z M-0.97,-1V1 M0.97,-1V1",
              "M-2.9,-0.06H2.9 M-2.9,0.06H2.9 M0,-1.3V1.3 M-0.5,-1.3H0.5 M-0.5,1.3H0.5 M0.45,0A0.45,0.45 0 1,1 -0.45,0A0.45,0.45 0 1,1 0.45,0Z M0.25,0A0.25,0.25 0 1,1 -0.25,0A0.25,0.25 0 1,1 0.25,0Z M0.1,0A0.1,0.1 0 1,1 -0.1,0A0.1,0.1 0 1,1 0.1,0Z",
              "M-2.9,-0.06H2.9 M-2.9,0.06H2.9 M0,-1.3V1.3 M-0.5,-1.3H0.5 M-0.5,1.3H0.5 M0.45,0A0.45,0.45 0 1,1 -0.45,0A0.45,0.45 0 1,1 0.45,0Z M0.25,0A0.25,0.25 0 1,1 -0.25,0A0.25,0.25 0 1,1 0.25,0Z M0.1,0A0.1,0.1 0 1,1 -0.1,0A0.1,0.1 0 1,1 0.1,0Z"
            ]}}
      }
    },
    {
      "data": {"values": [{"label": "Matlab: 94.6 – 105.1 mN/A max force"}]},
      "mark": {"type": "text", "font": "Lato", "fontSize": 34, "color": "#163a6a", "align": "left", "baseline": "middle"},
      "encoding": {
        "text": {"field": "label"},
        "x": {"datum": 10.27, "type": "quantitative", "axis": null},
        "y": {"datum": 114.3, "type": "quantitative", "axis": null}
      }
    },
    {
      "data": {"values": [{"label": "Preliminary"}]},
      "mark": {"type": "text", "font": "Lato", "fontSize": 45, "color": "#163a6a", "align": "left", "baseline": "middle"},
      "encoding": {
        "text": {"field": "label"},
        "x": {"datum": 24.97, "type": "quantitative", "axis": null},
        "y": {"datum": 112.0, "type": "quantitative", "axis": null}
      }
    }
  ]
}
